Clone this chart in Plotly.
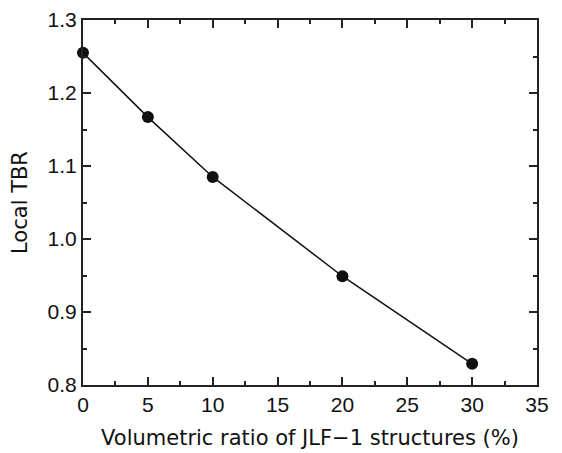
import plotly.graph_objects as go

ratio = [0, 5, 10, 20, 30]
tbr = [1.255, 1.167, 1.085, 0.949, 0.829]

tick_font = "Liberation Sans, Arial, sans-serif"
title_font = "DejaVu Sans, sans-serif"

fig = go.Figure()
fig.add_trace(go.Scatter(
    x=ratio, y=tbr, mode="lines+markers",
    line=dict(color="#111111", width=1.5),
    marker=dict(color="#111111", size=12),
    cliponaxis=False,
))

axis_common = dict(
    showline=True, linecolor="#222222", linewidth=2, mirror="allticks",
    ticks="inside", ticklen=8, tickwidth=1.5, tickcolor="#222222",
    showgrid=False, zeroline=False, automargin=False,
    tickfont=dict(size=21, color="#111111", family=tick_font),
)

fig.update_xaxes(
    range=[0, 35], dtick=5, tick0=0,
    minor=dict(ticks="inside", dtick=2.5, ticklen=4, tickwidth=1.5, tickcolor="#222222", showgrid=False),
    title=dict(text="Volumetric ratio of JLF\u22121 structures (%)", font=dict(size=21, color="#111111", family=title_font)),
    **axis_common,
)
fig.update_yaxes(
    range=[0.8, 1.3], dtick=0.1, tick0=0.8, tickformat=".1f",
    minor=dict(ticks="inside", dtick=0.05, ticklen=4, tickwidth=1.5, tickcolor="#222222", showgrid=False),
    title=dict(text="Local TBR", font=dict(size=21, color="#111111", family=title_font)),
    **axis_common,
)

# page body has an 8px margin, so the figure is sized/offset to compensate
fig.update_layout(
    width=554, height=445,
    margin=dict(l=75, r=25, t=12, b=68),
    plot_bgcolor="white", paper_bgcolor="white",
    showlegend=False,
)

fig.write_html("out.html")
